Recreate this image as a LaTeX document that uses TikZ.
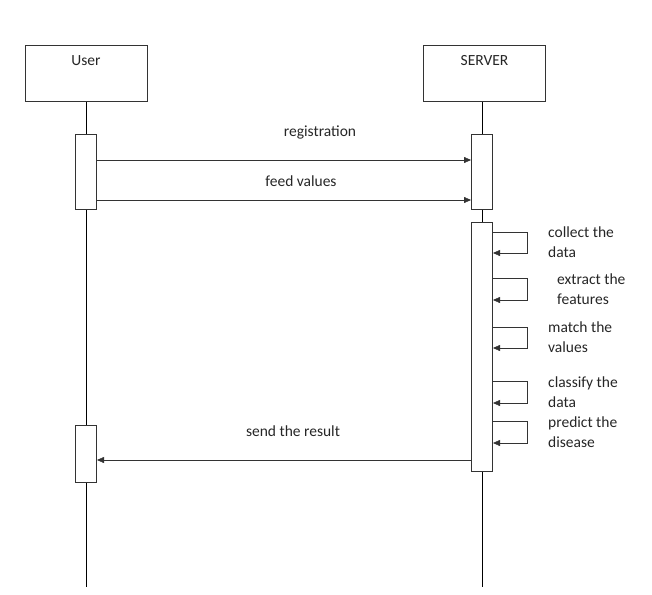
\documentclass[tikz,border=0pt]{standalone}
\usepackage{fontspec}
\setmainfont{Carlito}
\usepackage{tikz}
\usetikzlibrary{arrows, arrows.meta}
\usetikzlibrary{positioning}
\usetikzlibrary{calc}
\pgfdeclarelayer{bg}
\pgfsetlayers{bg,main}

\begin{document}
\begin{tikzpicture}[x=1pt, y=-1pt, line width=1pt, draw=black!80,
		every node/.style={font=\fontsize{15.5}{20}\selectfont, text=black!85},
		actor/.style={draw=black!80, fill=white, rectangle, minimum width=122pt, minimum height=55pt, inner sep=0pt},
		act/.style={draw=black!80, fill=white, rectangle, minimum width=21pt, inner sep=0pt},
		msg/.style={draw=black!80, -{Triangle[length=7pt, width=6pt]}},
		note/.style={anchor=west, align=left, inner sep=0pt}]
			\useasboundingbox (0,0) rectangle (652,594);
			% lifeline heads
			\node[actor] (user) at (86,73.5) {};
			\node[actor] (server) at (484.5,73.5) {};
			\node[inner sep=0pt] (userlbl) at (86,61) {User};
			\node[inner sep=0pt] (serverlbl) at (484.5,61) {SERVER};
			\coordinate (userend) at (86,587);
			\coordinate (serverend) at (482,587);
			% activations
			\node[act, minimum height=75pt] (ua1) at (86,171.5) {};
			\node[act, minimum height=57pt] (ua2) at (86,453.5) {};
			\node[act, minimum height=75pt] (sa1) at (482,171.5) {};
			\node[act, minimum height=249pt] (sa2) at (482,346.5) {};
			\begin{pgfonlayer}{bg}
				\draw (user.south) -- (userend);
				\draw (server.south -| serverend) -- (serverend);
			\end{pgfonlayer}
			% messages
			\draw[msg] (ua1.east |- 0,160) -- (sa1.west |- 0,160);
			\draw[msg] (ua1.east |- 0,200) -- (sa1.west |- 0,200);
			\draw[msg] (sa2.west |- 0,460) -- (ua2.east |- 0,460);
			\node (reg) at (320,132) {registration};
			\node (feed) at (301,181) {feed values};
			\node (send) at (293,431) {send the result};
			% self calls on the server
			\foreach \top/\bot/\lx/\txt[count=\iStep] in {232/253/548/{collect the\\data}, 278/300/557/{extract the\\features}, 327/348/548/{match the\\values}, 381/403/548/{classify the\\data}, 421/443/548/{predict the\\disease}}
			{
				\draw[msg] (sa2.east |- 0,\top) -- (527,\top) -- (527,\bot) -- (sa2.east |- 0,\bot);
				\node[note] (step\iStep) at (\lx,{(\top+\bot)/2}) {\txt};
			}
		\end{tikzpicture}
\end{document}
